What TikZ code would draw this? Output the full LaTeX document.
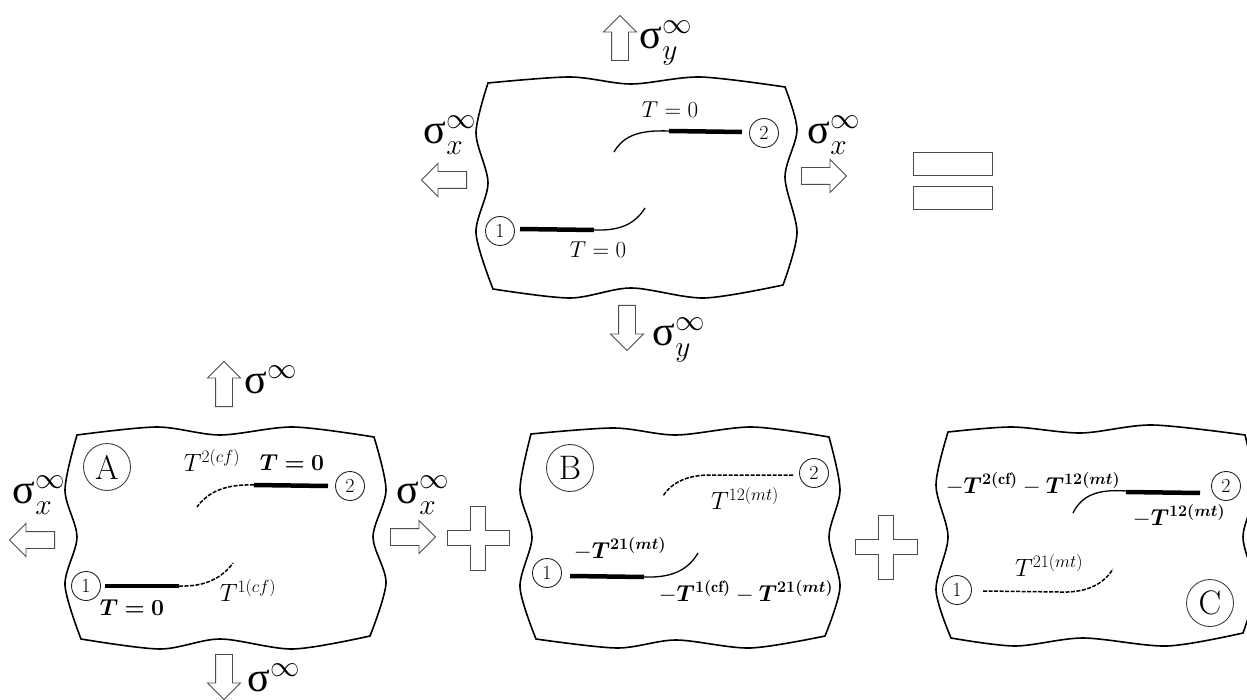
\documentclass[tikz,border=0pt]{standalone}
\usepackage{fix-cm}
\usepackage{bm}
\usepackage{fontspec}
\usetikzlibrary{shapes.arrows}
\newfontfamily\sigfont{Liberation Serif}
\newcommand{\sigup}{\mbox{\sigfont σ}}
\tikzset{
	plate/.style={line width=1.6pt,line join=miter},
	seam/.style={line width=4.5pt},
	kink/.style={line width=1.3pt},
	kinkdash/.style={line width=1.5pt,dash pattern=on 4pt off 1.5pt},
	num/.style={draw=black!85,line width=0.9pt,circle,minimum size=29pt,inner sep=0pt,font=\fontsize{20}{20}\selectfont},
	tag/.style={draw=black!75,line width=0.9pt,circle,minimum size=47pt,inner sep=0pt,font=\fontsize{34}{34}\selectfont},
	push/.style={draw=black!70,line width=0.9pt,single arrow,single arrow head extend=8pt,
		inner xsep=0pt,inner ysep=8pt,minimum height=45pt,anchor=tail},
	loadtxt/.style={inner sep=0pt,font=\fontsize{42}{42}\selectfont},
	small/.style={inner sep=0pt,font=\fontsize{23}{23}\selectfont},
	thin/.style={inner sep=0pt,font=\fontsize{25}{25}\selectfont},
	eqbar/.style={draw=black!70,line width=0.9pt},
	pluspic/.pic={
		\draw[eqbar] (-7.5,-32) -- (7.5,-32) -- (7.5,-7.5) -- (31,-7.5) -- (31,7.5) -- (7.5,7.5)
			-- (7.5,32) -- (-7.5,32) -- (-7.5,7.5) -- (-31,7.5) -- (-31,-7.5) -- (-7.5,-7.5) -- cycle;
	}
}
\begin{document}
\begin{tikzpicture}[x=1pt,y=-1pt]
	\useasboundingbox (0,0) rectangle (1247,700);

	% Top plate
	\draw[plate] plot[smooth] coordinates {(488,83) (570,77) (631,84) (700,77) (785,87)}
		-- plot[smooth] coordinates {(785,87) (797,130) (785,177) (797,233) (783,285)}
		-- plot[smooth] coordinates {(783,285) (704,298) (631,288) (570,298) (493,289)}
		-- plot[smooth] coordinates {(493,289) (476,233) (488,183) (476,133) (488,83)} -- cycle;
	\draw[seam] (669,131) -- (742,132);
	\draw[kink] (669,131) .. controls (640,130) and (624,135) .. (614,152);
	\draw[seam] (520,229) -- (594,230);
	\draw[kink] (594,230) .. controls (620,231) and (635,224) .. (645,208);
	\node[num] (topTwo) at (764,133) {2};
	\node[num] (topOne) at (500,231) {1};
	\node[small] (topTa) at (670,110) {$T=0$};
	\node[small] (topTb) at (598,250) {$T=0$};
	\node[push,rotate=90] (topUp) at (620,61) {};
	\node[push,rotate=-90] (topDown) at (627,305) {};
	\node[push,rotate=180] (topLeft) at (467,180) {};
	\node[push] (topRight) at (801,176) {};
	\node[loadtxt] (topSyu) at (666,43) {$\sigup^{\infty}_{y}$};
	\node[loadtxt] (topSyd) at (679,340) {$\sigup^{\infty}_{y}$};
	\node[loadtxt] (topSxl) at (450,135) {$\sigup^{\infty}_{x}$};
	\node[loadtxt] (topSxr) at (834,135) {$\sigup^{\infty}_{x}$};

	% Equals sign
	\foreach \y in {152,186}
	\draw[eqbar] (913,\y) rectangle (992,\y+23);

	% Plate A
	\draw[plate] plot[smooth] coordinates {(77,435) (157,427) (220,435) (293,427) (374,437)}
		-- plot[smooth] coordinates {(374,437) (386,490) (373,537) (386,583) (370,636)}
		-- plot[smooth] coordinates {(370,636) (293,649) (220,639) (160,649) (81,639)}
		-- plot[smooth] coordinates {(81,639) (65,585) (77,537) (65,490) (77,435)} -- cycle;
	\draw[seam] (254,485) -- (328,486);
	\draw[kinkdash] (254,485) .. controls (225,484) and (208,492) .. (197,507);
	\draw[seam] (105,586) -- (179,586);
	\draw[kinkdash] (179,586) .. controls (205,587) and (222,578) .. (233,563);
	\node[tag] (aTag) at (107,467) {A};
	\node[num] (aTwo) at (350,486) {2};
	\node[num] (aOne) at (86,586) {1};
	\node[small] (aTa) at (292,463) {$\bm{T=0}$};
	\node[small] (aTb) at (132,608) {$\bm{T=0}$};
	\node[thin] (aCa) at (212,460) {$T^{2(cf)}$};
	\node[thin] (aCb) at (248,590) {$T^{1(cf)}$};
	\node[push,rotate=90] (aUp) at (224,407) {};
	\node[push,rotate=-90] (aDown) at (224,654) {};
	\node[push,rotate=180] (aLeft) at (55,540) {};
	\node[push] (aRight) at (390,537) {};
	\node[loadtxt] (aSu) at (271,380) {$\sigup^{\infty}$};
	\node[loadtxt] (aSd) at (274,678) {$\sigup^{\infty}$};
	\node[loadtxt] (aSxl) at (39,495) {$\sigup^{\infty}_{x}$};
	\node[loadtxt] (aSxr) at (423,495) {$\sigup^{\infty}_{x}$};
	\pic at (478,538) {pluspic};

	% Plate B
	\draw[plate] plot[smooth] coordinates {(531,434) (614,428) (676,435) (752,427) (829,437)}
		-- plot[smooth] coordinates {(829,437) (840,490) (829,537) (840,587) (825,636)}
		-- plot[smooth] coordinates {(825,636) (750,648) (676,640) (617,648) (536,639)}
		-- plot[smooth] coordinates {(536,639) (520,587) (532,537) (520,490) (531,434)} -- cycle;
	\draw[kinkdash] (793,475) -- (710,475) .. controls (688,475) and (672,482) .. (663,496);
	\draw[seam] (570,576) -- (644,577);
	\draw[kink] (644,577) .. controls (672,578) and (688,570) .. (698,553);
	\node[tag] (bTag) at (570,468) {B};
	\node[num] (bTwo) at (814,473) {2};
	\node[num] (bOne) at (547,573) {1};
	\node[thin] (bTa) at (745,498) {$T^{12(mt)}$};
	\node[small] (bTb) at (620,549) {$-\bm{T}^{\bm{21(mt)}}$};
	\node[small] (bTc) at (746,592) {$-\bm{T}^{\bm{1(\mathrm{cf})}}-\bm{T}^{\bm{21(mt)}}$};
	\pic at (886,547) {pluspic};

	% Plate C
	\draw[plate] plot[smooth] coordinates {(948,432) (1012,427) (1081,433) (1152,425) (1245,435)}
		-- plot[smooth] coordinates {(1245,435) (1255,490) (1243,537) (1255,587) (1243,633)}
		-- plot[smooth] coordinates {(1243,633) (1167,646) (1083,638) (1015,646) (951,638)}
		-- plot[smooth] coordinates {(951,638) (936,590) (948,537) (936,485) (948,432)} -- cycle;
	\draw[seam] (1126,492) -- (1200,493);
	\draw[kink] (1126,491) .. controls (1098,489) and (1082,495) .. (1073,513);
	\draw[kinkdash] (983,591) -- (1060,592) .. controls (1085,593) and (1103,585) .. (1113,569);
	\node[tag] (cTag) at (1210,603) {C};
	\node[num] (cTwo) at (1226,486) {2};
	\node[num] (cOne) at (957,590) {1};
	\node[small] (cTa) at (1033,484) {$-\bm{T}^{\bm{2(\mathrm{cf})}}-\bm{T}^{\bm{12(mt)}}$};
	\node[small] (cTb) at (1179,516) {$-\bm{T}^{\bm{12(mt)}}$};
	\node[thin] (cTc) at (1049,565) {$T^{21(mt)}$};
\end{tikzpicture}
\end{document}
